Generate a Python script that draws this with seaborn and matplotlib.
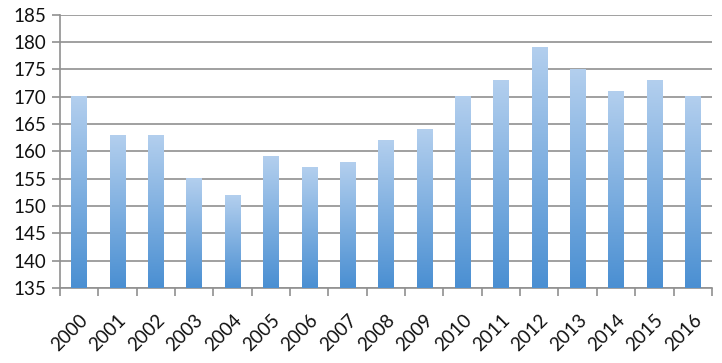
import numpy as np
import pandas as pd
import matplotlib
matplotlib.use("Agg")
import matplotlib.pyplot as plt
from matplotlib.colors import LinearSegmentedColormap
import seaborn as sns

# --- data ---
years = [str(y) for y in range(2000, 2017)]
values = [170, 163, 163, 155, 152, 159, 157, 158, 162, 164,
          170, 173, 179, 175, 171, 173, 170]

df = pd.DataFrame({"year": years, "value": values})

sns.set_style("white")
plt.rcParams["font.family"] = ["Lato", "DejaVu Sans"]

fig = plt.figure(figsize=(7.22, 3.63), dpi=100)
ax = fig.add_axes([0.083, 0.207, 0.903, 0.752])

sns.barplot(data=df, x="year", y="value", ax=ax, color="#8fb8e3",
            width=0.4, saturation=1, zorder=3)

# gradient fill on each bar: light top, darker bottom
cmap = LinearSegmentedColormap.from_list("grad", ["#4a8fd2", "#b3cfee"])
grad = np.linspace(0, 1, 256).reshape(-1, 1)
ymin, ymax = 135, 185
for p in ax.patches:
    x0, w, h = p.get_x(), p.get_width(), p.get_height()
    p.set_facecolor("none")
    p.set_edgecolor("none")
    ax.imshow(grad, cmap=cmap, origin="lower", aspect="auto",
              extent=[x0, x0 + w, ymin, h], zorder=3)

ax.set_ylim(ymin, ymax)
ax.set_xlim(-0.5, len(years) - 0.5)
ax.set_yticks(range(135, 186, 5))
ax.grid(axis="y", color="#909090", linewidth=1.2, zorder=0)
ax.set_axisbelow(True)

for s in ["top", "right"]:
    ax.spines[s].set_visible(False)
for s in ["left", "bottom"]:
    ax.spines[s].set_color("#909090")
    ax.spines[s].set_linewidth(1.2)

ax.set_xlabel("")
ax.set_ylabel("")
ax.tick_params(axis="y", labelsize=13.5, length=6, color="#909090",
               width=1.2, left=True, pad=4, labelcolor="#111111")
ax.tick_params(axis="x", which="major", length=0, labelsize=13.5, pad=17,
               labelcolor="#111111")
ax.set_xticks(np.arange(-0.5, len(years), 1), minor=True)
ax.tick_params(axis="x", which="minor", length=6, color="#909090",
               width=1.2, bottom=True)
plt.setp(ax.get_xticklabels(), rotation=45, ha="right", rotation_mode="anchor")

fig.savefig("out.png", dpi=100)
